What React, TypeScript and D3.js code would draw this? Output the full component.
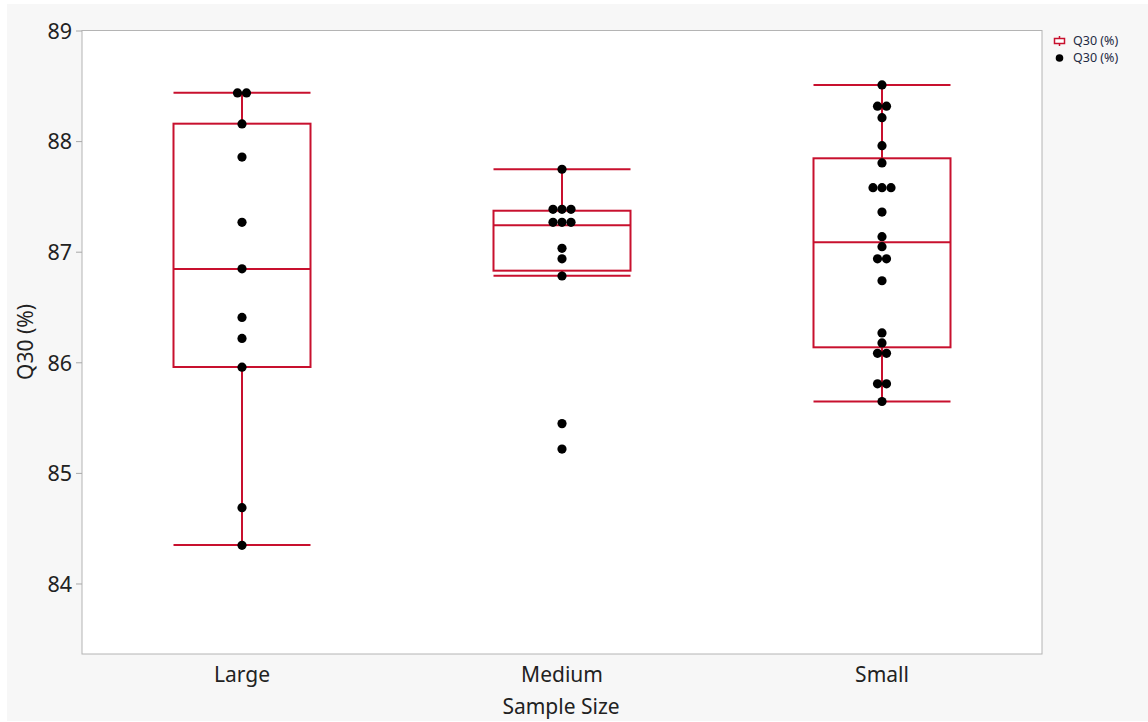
import React from "react";
import * as d3 from "d3";

const categories = ["Large", "Medium", "Small"];
// box stats
const boxLow = [84.353, 86.788, 85.65];
const boxQ1 = [85.962, 86.833, 86.14];
const boxMedian = [86.848, 87.243, 87.09];
const boxQ3 = [88.162, 87.375, 87.849];
const boxHigh = [88.442, 87.75, 88.512];

const largePoints = [88.44, 88.44, 88.16, 87.86, 87.27, 86.85, 86.41, 86.22, 85.96, 84.69, 84.35];
const mediumPoints = [87.75, 87.388, 87.388, 87.388, 87.27, 87.27, 87.27, 87.035, 86.94, 86.785, 85.45, 85.22];
const smallPoints = [88.512, 88.32, 88.32, 88.216, 87.963, 87.807, 87.583, 87.583, 87.583, 87.363, 87.14, 87.05, 86.94, 86.94, 86.742, 86.27, 86.18, 86.086, 86.086, 85.81, 85.81, 85.65];
const pointSets = [largePoints, mediumPoints, smallPoints];

const yTicks = [84, 85, 86, 87, 88, 89];

const W = 1148, H = 722;
const M = { left: 82, right: 1042, top: 30.5, bottom: 654 };
const RED = "#c8102e";
const FONT = "'Noto Sans', 'Open Sans', sans-serif";

export default function App() {
  const y = d3.scaleLinear().domain([83.367, 89]).range([654, 31]);
  const x = d3.scaleBand().domain(categories).range([M.left, M.right]);
  const half = 68.5;
  const dx = 9;

  const dots: { cx: number; cy: number }[] = [];
  pointSets.forEach((pts, i) => {
    const cx0 = x(categories[i])! + x.bandwidth() / 2;
    const groups = d3.groups(pts, (v) => v.toFixed(3));
    groups.forEach(([, arr]) => {
      const n = arr.length;
      arr.forEach((v, j) => {
        dots.push({ cx: cx0 + (j - (n - 1) / 2) * dx, cy: y(v) });
      });
    });
  });

  return (
    <svg width={W} height={H} style={{ position: "absolute", left: 0, top: 0 }} fontFamily={FONT}>
      <rect x={0} y={0} width={W} height={H} fill="#ffffff" />
      <rect x={7} y={4} width={W - 7} height={H - 5} fill="#f7f7f7" />
      <rect x={M.left} y={M.top} width={M.right - M.left} height={M.bottom - M.top} fill="#ffffff" stroke="#b4b4b4" strokeWidth={1} />
      {yTicks.map((t) => (
        <g key={t}>
          <line x1={M.left - 6} x2={M.left} y1={y(t)} y2={y(t)} stroke="#a8a8a8" />
          <text x={M.left - 10} y={y(t)} dy="0.36em" textAnchor="end" fontSize={21.5} fill="#222">{t}</text>
        </g>
      ))}
      {categories.map((c, i) => {
        const cx = x(c)! + x.bandwidth() / 2;
        return (
          <g key={c} fill="none" stroke={RED} strokeWidth={2}>
            <line x1={cx} x2={cx} y1={y(boxHigh[i])} y2={y(boxQ3[i])} />
            <line x1={cx} x2={cx} y1={y(boxQ1[i])} y2={y(boxLow[i])} />
            <line x1={cx - half} x2={cx + half} y1={y(boxHigh[i])} y2={y(boxHigh[i])} />
            <line x1={cx - half} x2={cx + half} y1={y(boxLow[i])} y2={y(boxLow[i])} />
            <rect x={cx - half} y={y(boxQ3[i])} width={half * 2} height={y(boxQ1[i]) - y(boxQ3[i])} />
            <line x1={cx - half} x2={cx + half} y1={y(boxMedian[i])} y2={y(boxMedian[i])} />
            <text x={cx} y={682} textAnchor="middle" fontSize={21} fill="#222" stroke="none">{c}</text>
          </g>
        );
      })}
      {dots.map((d, i) => (
        <circle key={i} cx={d.cx} cy={d.cy} r={4.6} fill="#000" />
      ))}
      <text x={561} y={714} textAnchor="middle" fontSize={21} fill="#222">Sample Size</text>
      <text transform="translate(33,342) rotate(-90)" textAnchor="middle" fontSize={21} fill="#222">Q30 (%)</text>
      <g>
        <line x1={1059.5} x2={1059.5} y1={36} y2={46} stroke={RED} strokeWidth={1.5} />
        <rect x={1054.5} y={38.5} width={10} height={5} fill="#fff" stroke={RED} strokeWidth={1.5} />
        <text x={1073} y={41} dy="0.35em" fontSize={12.5} fill="#1f2a44">Q30 (%)</text>
        <circle cx={1059.5} cy={58} r={3.8} fill="#000" />
        <text x={1073} y={58} dy="0.35em" fontSize={12.5} fill="#1f2a44">Q30 (%)</text>
      </g>
    </svg>
  );
}
